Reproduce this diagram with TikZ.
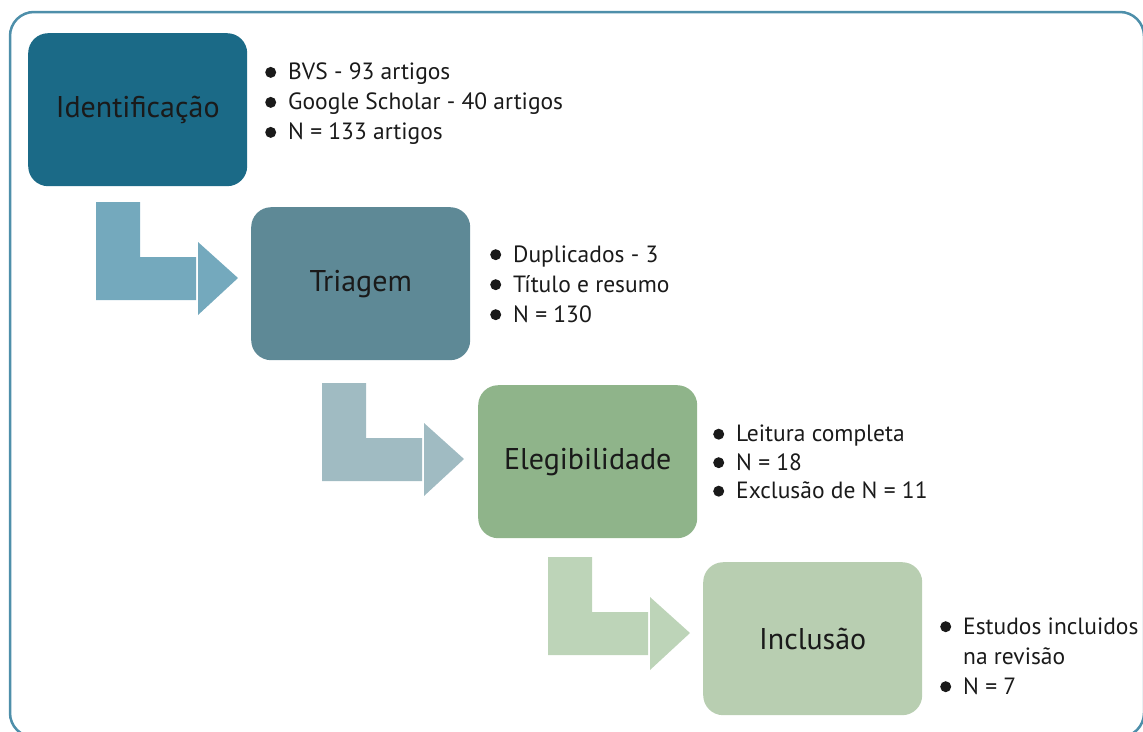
\documentclass[tikz,border=0pt]{standalone}
\usepackage{fontspec}
\setmainfont{PT Sans}
\definecolor{frameC}{HTML}{4E8FAA}
\definecolor{boxA}{HTML}{1B6A87}
\definecolor{boxB}{HTML}{5E8996}
\definecolor{boxC}{HTML}{8FB48A}
\definecolor{boxD}{HTML}{B8CEB1}
\definecolor{arrA}{HTML}{74A9BD}
\definecolor{arrB}{HTML}{A0BBC2}
\definecolor{arrC}{HTML}{BDD4B8}
\definecolor{txt}{HTML}{1A1A1A}
\newcommand\bul{\makebox[23pt][l]{\raisebox{2pt}{\tikz\fill[txt] (0,0) circle (5.5pt);}}}
\tikzset{
  stagebox/.style={rounded corners=20pt, minimum width=219pt, minimum height=153pt,
    inner sep=0pt, text=txt, font=\fontsize{30}{34}\selectfont},
  itemlist/.style={anchor=west, align=left, inner sep=0pt, text=txt,
    font=\fontsize{23.5}{30}\selectfont},
  pics/bentarrow/.style={code={
    \fill[#1] (0,0) -- (44,0) -- (44,55) -- (100,55) -- (100,98) -- (0,98) -- cycle;
    \fill[#1] (102,40) -- (142,76) -- (102,113) -- cycle;
  }}
}
\begin{document}
\begin{tikzpicture}[x=1pt,y=-1pt]
\useasboundingbox (0,0) rectangle (1143,731);
\clip (0,0) rectangle (1143,731);
\draw[frameC, line width=2.5pt, rounded corners=24pt] (10,12) rectangle (1144,737);

\node[stagebox, fill=boxA, anchor=north west] (b1) at (28,33) {Identificação};
\node[stagebox, fill=boxB, anchor=north west] (b2) at (251,207) {Triagem};
\node[stagebox, fill=boxC, anchor=north west] (b3) at (478,385) {Elegibilidade};
\node[stagebox, fill=boxD, anchor=north west] (b4) at (703,562) {Inclusão};

\node[itemlist] (l1) at (265,104) {\bul BVS - 93 artigos\\ \bul Google Scholar - 40 artigos\\ \bul N = 133 artigos};
\node[itemlist] (l2) at (490,284) {\bul Duplicados - 3\\ \bul Título e resumo\\ \bul N = 130};
\node[itemlist, font=\fontsize{23.5}{28.5}\selectfont] (l3) at (713,462) {\bul Leitura completa\\ \bul N = 18\\ \bul Exclusão de N = 11};
\node[itemlist] (l4) at (940,656) {\bul Estudos incluidos\\ \hspace*{23pt}na revisão\\ \bul N = 7};

\pic at (96,202) {bentarrow=arrA};
\pic at (322,383) {bentarrow=arrB};
\pic at (548,557) {bentarrow=arrC};
\end{tikzpicture}
\end{document}
